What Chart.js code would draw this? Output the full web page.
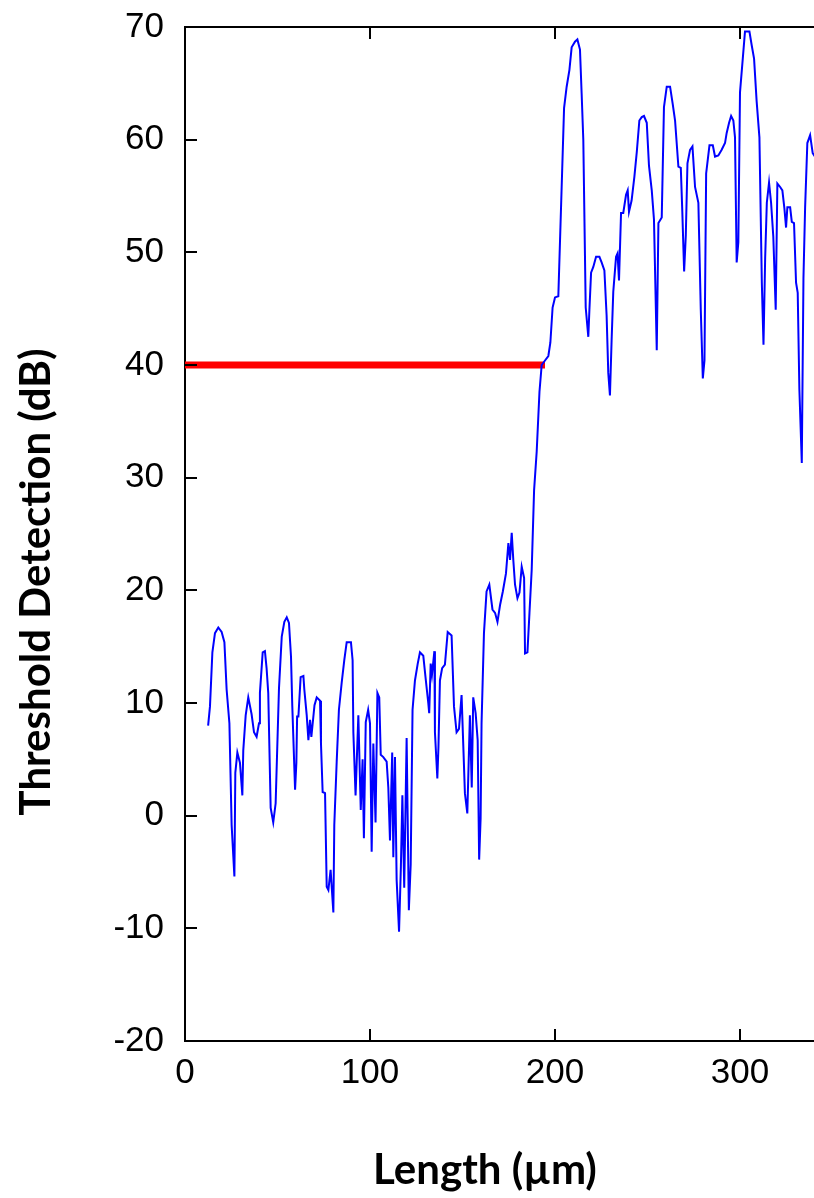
<!DOCTYPE html>
<html>
<head>
<meta charset="utf-8">
<title>Threshold Detection vs Length</title>
<script src="https://cdn.jsdelivr.net/npm/chart.js@4.4.1/dist/chart.umd.min.js"></script>
<style>
  html, body { margin: 0; padding: 0; background: #fff; }
  #wrap { width: 814px; height: 1198px; position: relative; }
</style>
</head>
<body>
<div id="wrap"><canvas id="chart"></canvas></div>
<script>
// -----------------------------
// Data
// -----------------------------
const lengthUm = [
  12.5, 13.5, 14.8, 16.2, 18, 19.8, 21.3, 22.5, 24, 25.2, 26.7, 27.2, 28.3, 29.7, 31, 31.5,
  32.8, 34.2, 36, 37.3, 38.7, 40, 40.5, 42, 43.2, 44.1, 45, 46.3, 47.7, 49, 50.8, 52.3,
  53.7, 55, 56.2, 57.3, 58, 59.5, 60.2, 60.6, 61.3, 62.5, 64, 64.5, 65.8, 66.7, 67.6, 68.3,
  70, 71.2, 73, 73.5, 74.4, 75.7, 76.6, 77.5, 78.7, 80.2, 80.7, 82, 83.2, 84.7, 86.1, 87.4,
  89.7, 90.6, 91, 92.2, 93.7, 95, 96, 96.7, 97.7, 99, 100, 100.9, 101.8, 103, 104, 105,
  105.8, 107.2, 109, 109.9, 110.8, 112, 112.6, 113.5, 114.4, 115.7, 116.7, 117.5, 118.5, 119.8, 121, 122,
  123, 124.3, 125.8, 127, 128.8, 130, 131.5, 132, 132.8, 133.5, 134.8, 135.1, 136.4, 137, 137.8, 139,
  140.5, 142, 144.1, 145.4, 146.8, 148.1, 149.5, 151.3, 152.6, 154, 155, 155.8, 157.1, 158.2, 159, 159.8,
  160.3, 161.6, 163, 164.5, 166.2, 167.6, 168.9, 170.3, 171.8, 173.5, 174.8, 175.7, 176.6, 177.5, 178.4, 179.7,
  180.8, 182, 183.3, 183.8, 185.1, 186.2, 187.4, 188.7, 190.1, 191.6, 192.8, 194.6, 196.4, 197.5, 198.7, 200,
  201.8, 203.6, 204.9, 206.3, 207.8, 209, 210.8, 212.1, 213.5, 214.4, 215.3, 216.6, 218, 218.6, 219.5, 220.7,
  222.2, 224, 225.2, 226.7, 227.9, 228.8, 229.7, 230.6, 231.5, 233, 233.8, 234.6, 235.7, 236.9, 238.4, 239.3,
  240, 241.4, 242.9, 244.2, 245.6, 246.9, 248.1, 249.6, 250.8, 252.3, 253.5, 255, 255.9, 257.7, 258.9, 260.4,
  262.2, 263.6, 264.9, 266.7, 268, 268.8, 269.8, 270.7, 271.6, 273, 274.3, 275.7, 277.5, 278.8, 279.9, 280.8,
  281.7, 283.5, 285.3, 286.5, 288.3, 290.1, 291.9, 292.8, 294.1, 295.2, 296.4, 297.3, 298.2, 299.1, 300, 301.5,
  302.7, 305.1, 306.3, 307.6, 309, 310.5, 311.8, 312.7, 313.6, 314.5, 315.7, 316.8, 318, 319.3, 320.2, 321.7,
  322.9, 324, 324.9, 325.6, 327.1, 328, 329.2, 330.3, 331.2, 332.1, 333.4, 334.3, 335.2, 336.4, 337.9, 339.3,
  340.5
]
const thresholdDb = [
  8.0, 9.7, 14.5, 16.2, 16.7, 16.3, 15.4, 11.2, 8.2, -0.8, -5.4, 3.8, 5.6, 4.7, 1.8, 5.8,
  8.9, 10.5, 9.0, 7.4, 7.0, 8.2, 10.9, 14.5, 14.6, 13.1, 10.9, 0.7, -0.6, 1.1, 11.3, 15.9,
  17.2, 17.6, 17.1, 14.1, 9.7, 2.3, 4.7, 8.8, 8.8, 12.3, 12.4, 11.2, 8.9, 6.7, 8.5, 7.0,
  9.8, 10.5, 10.2, 6.4, 2.1, 2.0, -6.3, -6.6, -4.8, -8.6, -0.8, 4.8, 9.4, 11.8, 13.8, 15.4,
  15.4, 13.8, 7.4, 1.8, 8.9, 0.5, 5.0, -2.0, 8.3, 9.4, 8.2, -3.2, 6.4, -0.6, 10.9, 10.5,
  5.4, 5.2, 4.8, 2.5, -2.2, 5.6, -3.7, 5.2, -5.7, -10.3, -4.5, 1.8, -6.4, 6.9, -8.4, -4.3,
  9.4, 12.0, 13.5, 14.5, 14.2, 12.3, 10.0, 9.1, 13.5, 12.5, 14.6, 7.4, 3.3, 6.1, 12.0, 13.1,
  13.4, 16.3, 16.0, 9.7, 7.4, 7.7, 10.7, 2.0, 0.2, 8.9, 2.5, 10.5, 9.1, 6.7, -3.9, -0.2,
  8.2, 16.2, 19.9, 20.5, 18.3, 18.0, 17.2, 18.7, 19.9, 21.5, 24.2, 22.7, 25.1, 22.6, 20.5, 19.3,
  19.8, 22.1, 21.1, 14.4, 14.5, 18.0, 21.8, 28.9, 32.3, 37.6, 40.0, 40.4, 40.8, 42.0, 45.1, 46.0,
  46.1, 55.8, 62.8, 64.7, 66.2, 68.2, 68.7, 68.9, 68.0, 64.1, 60.0, 45.1, 42.5, 44.9, 48.2, 48.7,
  49.6, 49.6, 49.1, 48.4, 44.4, 39.3, 37.3, 42.2, 46.5, 49.6, 49.9, 47.5, 53.5, 53.5, 55.1, 55.5,
  53.6, 54.6, 56.7, 58.9, 61.7, 62.0, 62.1, 61.5, 57.7, 55.5, 52.9, 41.3, 52.6, 53.1, 62.9, 64.7,
  64.7, 63.2, 61.7, 57.6, 57.5, 53.7, 48.3, 51.5, 57.9, 59.1, 59.4, 55.8, 54.4, 44.9, 38.8, 40.4,
  57.0, 59.5, 59.5, 58.5, 58.6, 59.1, 59.7, 60.6, 61.5, 62.1, 61.7, 60.2, 49.1, 50.9, 64.2, 67.2,
  69.6, 69.6, 68.4, 67.2, 63.4, 60.2, 47.3, 41.8, 49.5, 54.4, 56.2, 54.4, 51.4, 44.9, 56.1, 55.8,
  55.5, 53.9, 52.2, 54.0, 54.0, 52.7, 52.6, 47.3, 46.4, 37.8, 31.3, 47.7, 54.0, 59.7, 60.4, 58.8,
  58.5
]

// red threshold level
const thresholdX = [0, 194.6]
const thresholdY = [40, 40]

const xTicks = [0, 100, 200, 300]
const yTicks = [-20, -10, 0, 10, 20, 30, 40, 50, 60, 70]

const xTitle = "Length (\u00b5m)"
const yTitle = "Threshold Detection (dB)"

// -----------------------------
// Helpers
// -----------------------------
function toPoints(xs, ys) {
  return xs.map((x, i) => ({ x: x, y: ys[i] }))
}

// inward tick marks, top frame line and axis titles
const frameAndTitles = {
  id: "frameAndTitles",
  afterDraw(chart) {
    const ctx = chart.ctx
    const area = chart.chartArea
    const xs = chart.scales.x
    const ys = chart.scales.y
    const len = 12

    ctx.save()
    ctx.strokeStyle = "#000"
    ctx.lineWidth = 2

    ctx.beginPath()
    ctx.moveTo(area.left, area.top)
    ctx.lineTo(area.right, area.top)
    ctx.stroke()

    xTicks.forEach(v => {
      const px = Math.round(xs.getPixelForValue(v))
      ctx.beginPath()
      ctx.moveTo(px, area.bottom)
      ctx.lineTo(px, area.bottom - len)
      ctx.moveTo(px, area.top)
      ctx.lineTo(px, area.top + len)
      ctx.stroke()
    })

    yTicks.forEach(v => {
      const py = Math.round(ys.getPixelForValue(v))
      ctx.beginPath()
      ctx.moveTo(area.left, py)
      ctx.lineTo(area.left + len, py)
      ctx.stroke()
    })

    ctx.fillStyle = "#000"
    ctx.font = "bold 42px Lato"
    ctx.textAlign = "center"
    ctx.textBaseline = "middle"
    ctx.fillText(xTitle, 485, 1170)

    ctx.translate(36, 582)
    ctx.rotate(-Math.PI / 2)
    ctx.fillText(yTitle, 0, 0)
    ctx.restore()
  }
}

// -----------------------------
// Chart
// -----------------------------
const tickFont = { family: "'Liberation Sans', Arial, sans-serif", size: 35 }

new Chart(document.getElementById("chart"), {
  type: "scatter",
  data: {
    datasets: [
      {
        data: toPoints(lengthUm, thresholdDb),
        showLine: true,
        borderColor: "#0000ff",
        borderWidth: 2,
        pointRadius: 0,
        tension: 0
      },
      {
        data: toPoints(thresholdX, thresholdY),
        showLine: true,
        borderColor: "#ff0000",
        borderWidth: 7,
        borderCapStyle: "butt",
        pointRadius: 0
      }
    ]
  },
  options: {
    responsive: true,
    maintainAspectRatio: false,
    animation: false,
    layout: { padding: { top: 27, right: 0, left: 0, bottom: 0 } },
    plugins: {
      legend: { display: false },
      tooltip: { enabled: false }
    },
    scales: {
      x: {
        type: "linear",
        min: 0,
        max: 340,
        afterFit: s => { s.height = 157; s.paddingRight = 0; s.paddingLeft = 0 },
        afterBuildTicks: s => { s.ticks = xTicks.map(v => ({ value: v })) },
        grid: { display: false },
        border: { display: true, color: "#000", width: 2 },
        ticks: { color: "#000", font: tickFont, padding: 3, maxRotation: 0 }
      },
      y: {
        min: -20,
        max: 70,
        afterFit: s => { s.width = 185; s.paddingTop = 0; s.paddingBottom = 0 },
        afterBuildTicks: s => { s.ticks = yTicks.map(v => ({ value: v })) },
        grid: { display: false },
        border: { display: true, color: "#000", width: 2 },
        ticks: { color: "#000", font: tickFont, padding: 13 }
      }
    }
  },
  plugins: [frameAndTitles]
})
</script>
</body>
</html>
